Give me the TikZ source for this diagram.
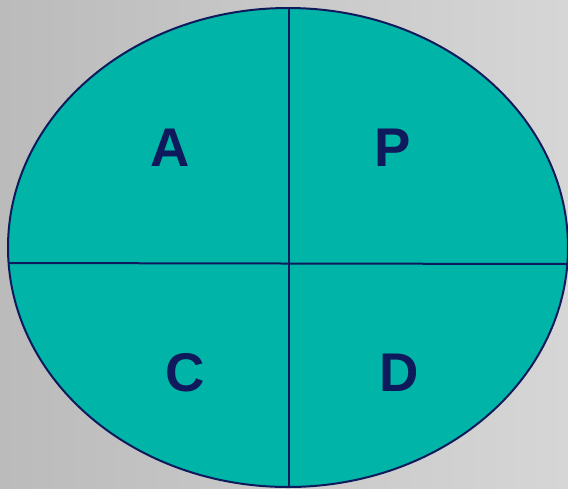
\documentclass[tikz,border=0pt]{standalone}
\usepackage{fontspec}
\setmainfont{Liberation Sans}
\definecolor{teal1}{HTML}{00B5A8}
\definecolor{navy1}{HTML}{0E1A5C}
\definecolor{bgL}{HTML}{BBBBBB}
\definecolor{bgR}{HTML}{D6D6D6}
\begin{document}
\begin{tikzpicture}[x=1pt,y=-1pt,
  lbl/.style={text=navy1,font=\fontsize{54.5}{60}\selectfont\bfseries,inner sep=0pt,anchor=base},
  edge/.style={draw=navy1,line width=2pt}]
\useasboundingbox (0,0) rectangle (568,488);
\shade[left color=bgL,right color=bgR] (0,0) rectangle (568,488);
\fill[teal1] (288,247.5) ellipse[x radius=280,y radius=239.5];
\begin{scope}
\clip (288,247.5) ellipse[x radius=280,y radius=239.5];
\draw[edge] (289,0) -- (289,488);
\draw[edge] (0,263) -- (568,264);
\end{scope}
\draw[edge] (288,247.5) ellipse[x radius=280,y radius=239.5];
\node[lbl] (a) at (170,166) {A};
\node[lbl] (p) at (392.5,166) {P};
\node[lbl] (c) at (185,391) {C};
\node[lbl] (d) at (399,391) {D};
\end{tikzpicture}
\end{document}
